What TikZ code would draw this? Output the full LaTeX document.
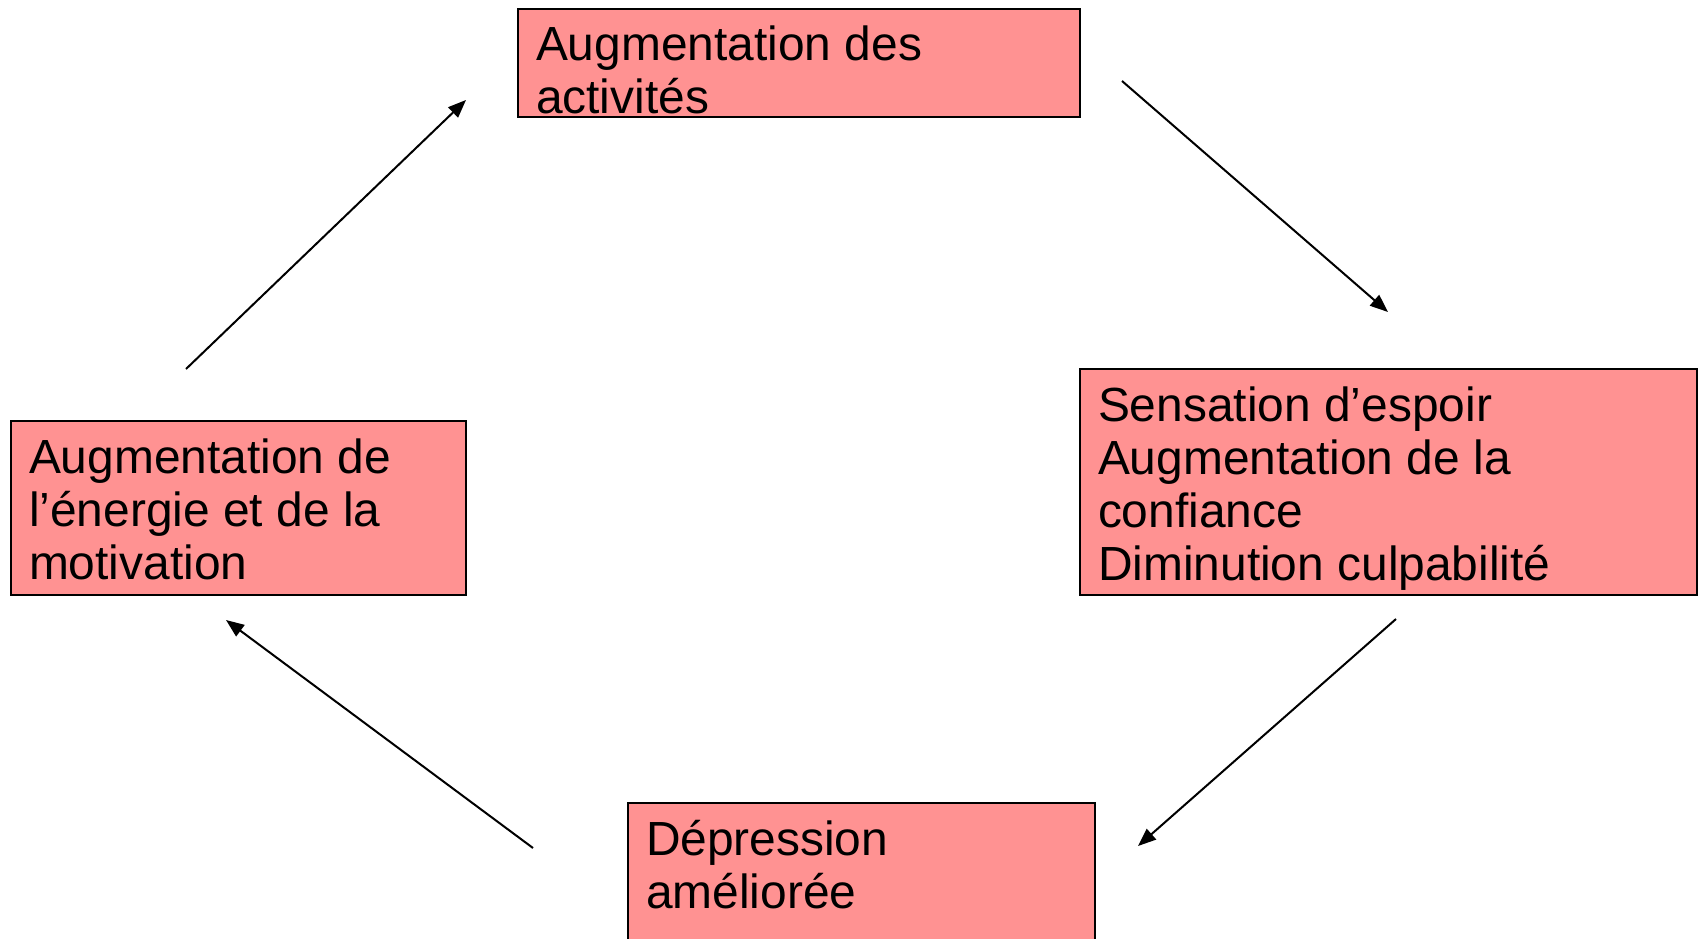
\documentclass[tikz,border=0pt]{standalone}
\usepackage{fontspec}
\setmainfont{Liberation Sans}
\usetikzlibrary{arrows.meta}
\definecolor{boxfill}{RGB}{255,146,146}
\tikzset{
  stagebox/.style={draw=black, line width=1.8pt, fill=boxfill, rectangle,
    anchor=north west, inner xsep=18pt, inner ysep=0pt, outer sep=0pt},
  flow/.style={line width=2pt, -{Triangle[length=18pt,width=14pt]}}
}
% box content: width, height, text (first baseline 52pt below the top edge)
\newcommand{\stagetext}[3]{\parbox[t][#2][t]{#1}{\fontsize{47.9pt}{53pt}\selectfont\raggedright\rule{0pt}{52pt}#3}}
\begin{document}
\begin{tikzpicture}[x=1pt,y=-1pt]
\useasboundingbox (0,0) rectangle (1700,939);
\clip (0,0) rectangle (1700,939);

\node[stagebox] (act) at (518,9) {\stagetext{526pt}{108pt}{Augmentation des\\activités}};
\node[stagebox] (hope) at (1080,369) {\stagetext{581pt}{226pt}{Sensation d’espoir\\Augmentation de la\\confiance\\Diminution culpabilité}};
\node[stagebox] (dep) at (628,803) {\stagetext{431pt}{200pt}{Dépression\\améliorée}};
\node[stagebox] (ener) at (11,421) {\stagetext{419pt}{174pt}{Augmentation de\\l’énergie et de la\\motivation}};

\coordinate (a1s) at (1122,81);
\coordinate (a1e) at (1388,312);
\coordinate (a2s) at (1396,619);
\coordinate (a2e) at (1138,846);
\coordinate (a3s) at (533,848);
\coordinate (a3e) at (226,620);
\coordinate (a4s) at (186,369);
\coordinate (a4e) at (466,100);

\draw[flow] (a1s) -- (a1e);
\draw[flow] (a2s) -- (a2e);
\draw[flow] (a3s) -- (a3e);
\draw[flow] (a4s) -- (a4e);
\end{tikzpicture}
\end{document}
